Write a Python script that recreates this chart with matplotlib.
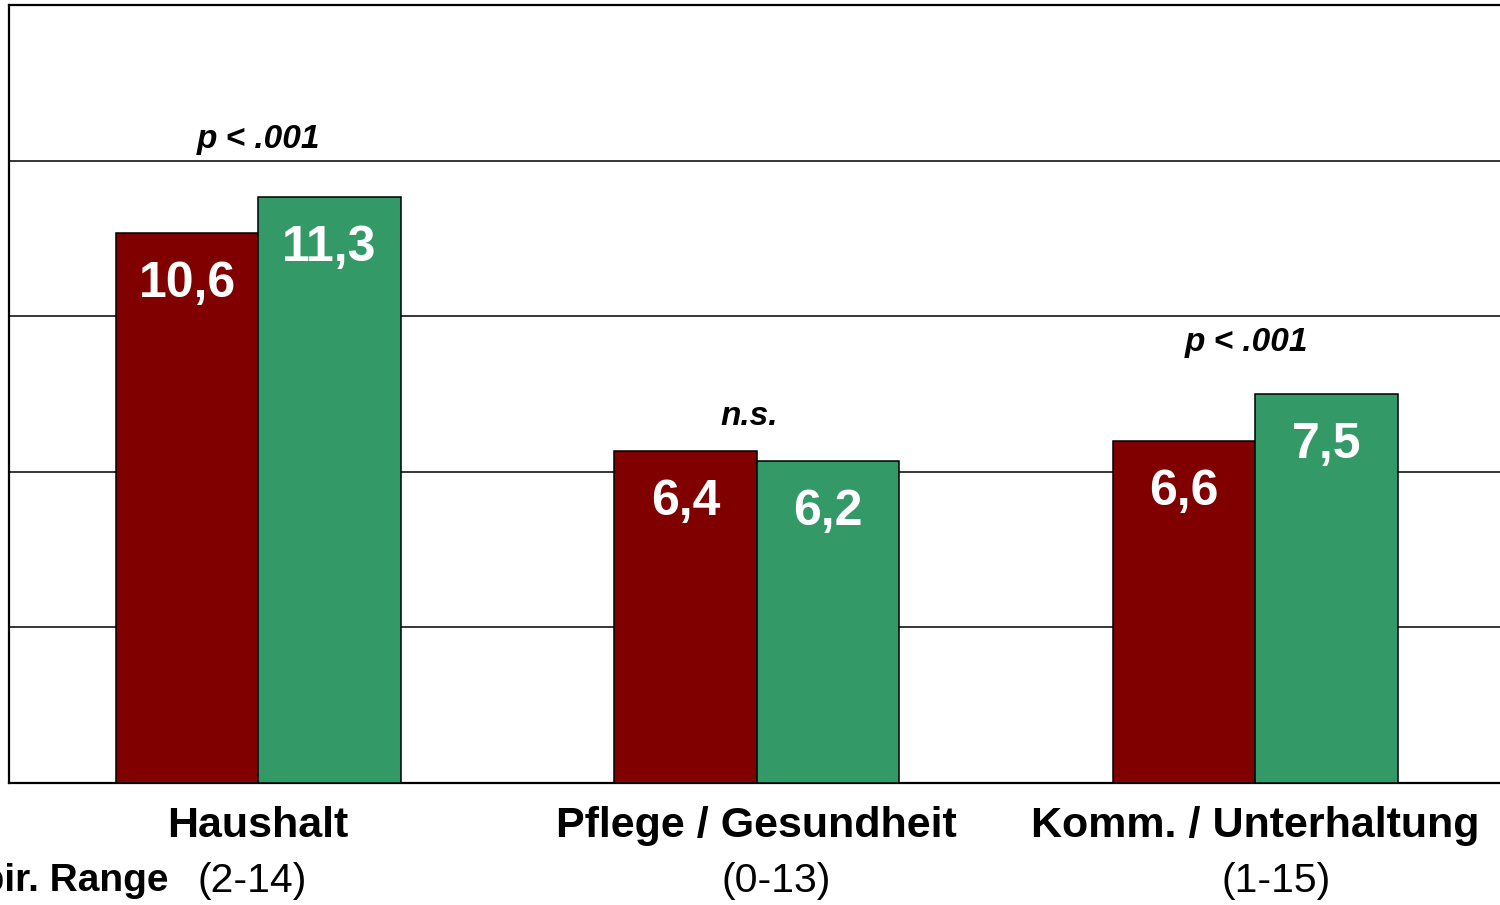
import numpy as np
import matplotlib.pyplot as plt

plt.rcParams['font.family'] = ['Liberation Sans', 'DejaVu Sans']

categories = ['Haushalt', 'Pflege / Gesundheit', 'Komm. / Unterhaltung']
ranges = ['(2-14)', '(0-13)', '(1-15)']
group_a = [10.6, 6.4, 6.6]
group_b = [11.3, 6.2, 7.5]
significance = ['p < .001', 'n.s.', 'p < .001']

# layout helpers (not data)
sig_y = [12.4, 7.06, 8.5]
sig_dx = [0.0, -0.015, -0.018]
range_dx = [-0.012, 0.038, 0.042]

red = '#800000'
green = '#339966'

fig = plt.figure(figsize=(15, 9.05), dpi=100)
ax = fig.add_axes([9 / 1500, 122 / 905, 1495.5 / 1500, 778 / 905])

x = np.arange(len(categories))
w = 0.2857
bars_a = ax.bar(x - w / 2, group_a, w, color=red, edgecolor='black', linewidth=1.1, zorder=3)
bars_b = ax.bar(x + w / 2, group_b, w, color=green, edgecolor='black', linewidth=1.1, zorder=3)

for bars, vals in ((bars_a, group_a), (bars_b, group_b)):
    for b, v in zip(bars, vals):
        ax.text(b.get_x() + b.get_width() / 2, v - 0.98, f'{v:.1f}'.replace('.', ','),
                ha='center', va='center', color='white', fontsize=36,
                fontweight='bold', zorder=4)

for i, s in enumerate(significance):
    ax.text(x[i] + sig_dx[i], sig_y[i], s, ha='center', va='center',
            fontsize=24, fontweight='bold', fontstyle='italic', zorder=4)

ax.set_xlim(-0.5, 2.5)
ax.set_ylim(0, 15)
ax.set_yticks([3, 6, 9, 12])
ax.yaxis.grid(True, color='black', linewidth=1.1, zorder=0)
ax.tick_params(axis='both', length=0, labelleft=False, labelbottom=False)
ax.set_xticks([])
for sp in ax.spines.values():
    sp.set_linewidth(1.6)
    sp.set_color('black')

tr = ax.get_xaxis_transform()
for i, c in enumerate(categories):
    ax.text(x[i], -0.055, c, transform=tr, ha='center', va='center',
            fontsize=31, fontweight='bold', clip_on=False)
    ax.text(x[i] + range_dx[i], -0.126, ranges[i], transform=tr, ha='center',
            va='center', fontsize=29.5, clip_on=False)
ax.text(-0.18, -0.126, 'Empir. Range', transform=tr, ha='right', va='center',
        fontsize=28, fontweight='bold', clip_on=False)

fig.savefig('out.png', dpi=100)
